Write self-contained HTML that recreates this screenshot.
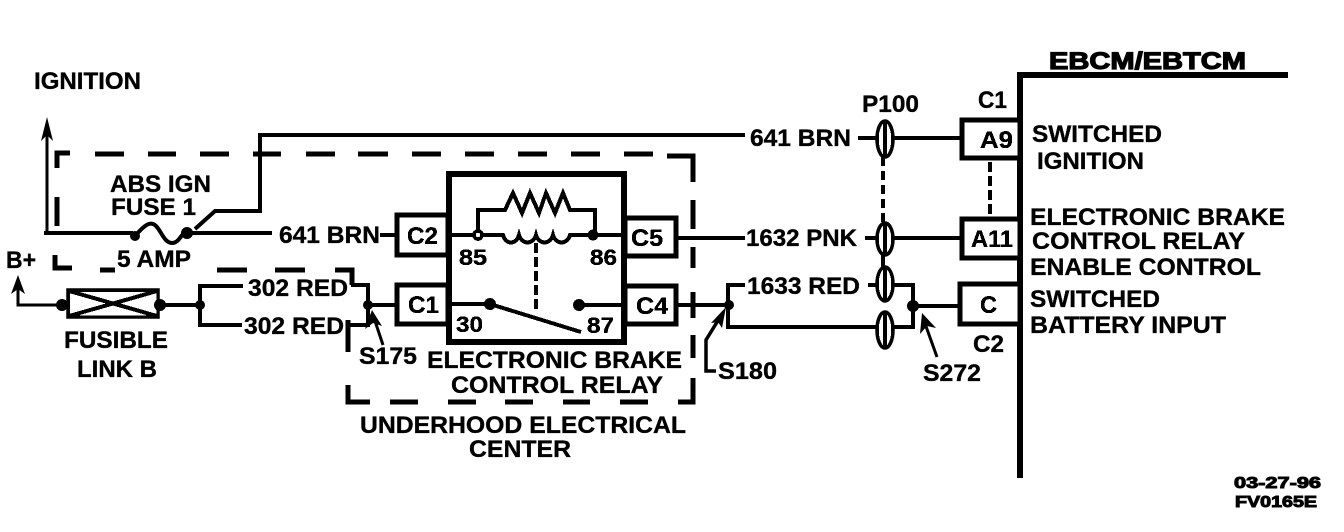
<!DOCTYPE html>
<html><head><meta charset="utf-8"><style>
html,body{margin:0;padding:0;background:#fff;width:1344px;height:532px;overflow:hidden}
svg{display:block}
text{font-family:"Liberation Sans",sans-serif;font-weight:bold;font-size:24px;fill:#000;stroke:#000;stroke-width:.35}
.w{fill:none;stroke:#000;stroke-width:3;stroke-linejoin:miter}
.h{fill:none;stroke:#000;stroke-width:5}
.d{fill:none;stroke:#000;stroke-width:5}
.b{fill:#fff;stroke:#000;stroke-width:5}
.o{fill:#fff;stroke:#000;stroke-width:3.5}
</style></head><body>
<svg width="1344" height="532" viewBox="0 0 1344 532" xmlns="http://www.w3.org/2000/svg">
<defs><filter id="t" x="0" y="0" width="100%" height="100%" color-interpolation-filters="sRGB"><feComponentTransfer><feFuncR type="discrete" tableValues="0 1"/><feFuncG type="discrete" tableValues="0 1"/><feFuncB type="discrete" tableValues="0 1"/></feComponentTransfer></filter></defs>
<rect width="1344" height="532" fill="#fff"/>
<g filter="url(#t)">
<!-- dashed enclosure -->
<path class="d" d="M70 153H57V168M57 197V226M55 255V268H72M100 270H115M95 154H124M148 154H176M200 154H229M253 154H281M306 154H335M358 154H388M412 154H441M465 154H494M518 154H547M571 154H600M624 154H653M667 156H693V182M693 200V229M693 247V268M693 292V318M693 335V358M693 378V402H678M648 402H620M590 402H563M533 402H505M476 402H448M418 402H390M370 402H348V385M217 270H247M275 270H305M335 270H352V285M348 320V352"/>
<!-- ignition circuit -->
<path class="w" d="M47 130V233H135"/>
<path d="M47 117L41 141L47 135L53 141Z" fill="#000"/>
<path class="h" d="M44 233H133" style="stroke-width:4"/>
<path class="w" style="stroke-width:4" d="M135 236C142 228 148 222 153 224C160 226 163 243 172 243C180 243 180 233 187 233"/>
<circle cx="135" cy="236" r="5"/><circle cx="187" cy="233" r="6"/>
<path class="w" style="stroke-width:4" d="M187 233H272M195 229L215 211H260V135H745M858 138H877M380 235H397"/>
<path class="w" d="M893 138H960M865 238H877M893 238H960M868 285H877M893 285H913V327H893M913 306H960M745 285H728V327H877" style="stroke-width:4"/>
<circle cx="913" cy="306" r="6"/>
<!-- P100 -->
<path class="w" stroke-dasharray="9 5" style="stroke-width:4" d="M883 157V223"/>
<path class="w" d="M883 255V267" style="stroke-width:4"/>
<ellipse class="o" cx="885" cy="139" rx="8" ry="18"/><path class="h" d="M885 123V155" style="stroke-width:4"/>
<ellipse class="o" cx="885" cy="239" rx="8" ry="16"/><path class="h" d="M885 225V253" style="stroke-width:4"/>
<ellipse class="o" cx="885" cy="284" rx="8" ry="17"/><path class="h" d="M885 269V299" style="stroke-width:4"/>
<ellipse class="o" cx="885" cy="330" rx="8" ry="18"/><path class="h" d="M885 314V346" style="stroke-width:4"/>
<!-- left fused link -->
<path class="w" d="M18 285V305H62"/>
<path d="M18 275L11 294L18 289L25 294Z" fill="#000"/>
<rect class="o" x="68" y="290" width="90" height="27"/>
<path class="w" d="M69 291L157 316M69 316L157 291" style="stroke-width:4"/>
<circle cx="62" cy="305" r="6"/><circle cx="160" cy="305" r="6"/>
<path class="w" style="stroke-width:4" d="M160 305H200M243 286H200V325H242M351 285H368V325H348M368 305H395"/>
<circle cx="200" cy="305" r="5" fill="#000"/><circle cx="368" cy="305" r="5"/>
<path class="w" d="M383 345L373 315"/><path d="M372 310L365 329L373 323L382 326Z" fill="#000"/>
<!-- relay -->
<rect class="b" x="397" y="215" width="51" height="40"/>
<rect class="b" x="397" y="285" width="51" height="39"/>
<rect class="b" x="625" y="218" width="51" height="38"/>
<rect class="b" x="625" y="286" width="51" height="38"/>
<rect class="b" x="449" y="174" width="175" height="168" style="stroke-width:6"/>
<path class="w" d="M478 235V210H505L513 193L522 213L530 193L539 213L546 193L555 213L563 193L570 210H595V235" style="stroke-width:4"/>
<path class="w" d="M450 235H503C506 245 516 245 519 235C522 245 533 245 536 235C539 245 550 245 553 235C556 245 567 245 570 235H624" style="stroke-width:4"/>
<circle class="o" cx="478" cy="235" r="4"/><circle cx="593" cy="235" r="5.5"/>
<path class="w" stroke-dasharray="10 4" style="stroke-width:4" d="M536 243V310"/>
<path class="w" style="stroke-width:4" d="M450 304H490L581 332M579 305H624"/>
<circle cx="490" cy="304" r="6"/><circle cx="579" cy="305" r="6"/>
<!-- right side -->
<path class="w" style="stroke-width:4" d="M676 238H745M676 305H728"/>
<circle cx="729" cy="305" r="5"/>
<path class="w" style="stroke-width:3.5" d="M716 371H706V340L722 314"/><path d="M726 307L711 323L718 322L722 328Z" fill="#000"/>
<path class="w" d="M937 357L923 318"/><path d="M922 313L920 334L927 326L936 328Z" fill="#000"/>
<path class="h" d="M1020 478V75H1288" style="stroke-width:6"/>
<rect class="b" x="962" y="120" width="58" height="38"/>
<rect class="b" x="962" y="219" width="58" height="39"/>
<rect class="b" x="960" y="284" width="60" height="40"/>
<path class="w" stroke-dasharray="10 4" style="stroke-width:4" d="M990 162V216"/>
<!-- labels -->
<text x="34" y="89" textLength="107" lengthAdjust="spacingAndGlyphs">IGNITION</text>
<text x="110" y="192" textLength="101" lengthAdjust="spacingAndGlyphs">ABS IGN</text>
<text x="111" y="215" textLength="85" lengthAdjust="spacingAndGlyphs">FUSE 1</text>
<text x="279" y="243" textLength="101" lengthAdjust="spacingAndGlyphs">641 BRN</text>
<text x="117" y="267" textLength="74" lengthAdjust="spacingAndGlyphs">5 AMP</text>
<text x="6" y="268" textLength="30" lengthAdjust="spacingAndGlyphs">B+</text>
<text x="248" y="296" textLength="100" lengthAdjust="spacingAndGlyphs">302 RED</text>
<text x="244" y="334" textLength="100" lengthAdjust="spacingAndGlyphs">302 RED</text>
<text x="64" y="348" textLength="104" lengthAdjust="spacingAndGlyphs">FUSIBLE</text>
<text x="77" y="377" textLength="80" lengthAdjust="spacingAndGlyphs">LINK B</text>
<text x="359" y="364" textLength="58" lengthAdjust="spacingAndGlyphs">S175</text>
<text x="427" y="368" textLength="255" lengthAdjust="spacingAndGlyphs">ELECTRONIC BRAKE</text>
<text x="451" y="393" textLength="212" lengthAdjust="spacingAndGlyphs">CONTROL RELAY</text>
<text x="360" y="433" textLength="326" lengthAdjust="spacingAndGlyphs">UNDERHOOD ELECTRICAL</text>
<text x="469" y="457" textLength="102" lengthAdjust="spacingAndGlyphs">CENTER</text>
<text x="407" y="244" textLength="31" lengthAdjust="spacingAndGlyphs">C2</text>
<text x="408" y="313" textLength="31" lengthAdjust="spacingAndGlyphs">C1</text>
<text x="631" y="246" textLength="32" lengthAdjust="spacingAndGlyphs">C5</text>
<text x="636" y="314" textLength="32" lengthAdjust="spacingAndGlyphs">C4</text>
<text x="459" y="265" textLength="28" style="font-size:22px" lengthAdjust="spacingAndGlyphs">85</text>
<text x="590" y="265" textLength="27" style="font-size:22px" lengthAdjust="spacingAndGlyphs">86</text>
<text x="456" y="332" textLength="27" style="font-size:22px" lengthAdjust="spacingAndGlyphs">30</text>
<text x="587" y="333" textLength="27" style="font-size:22px" lengthAdjust="spacingAndGlyphs">87</text>
<text x="750" y="146" textLength="101" lengthAdjust="spacingAndGlyphs">641 BRN</text>
<text x="746" y="246" textLength="111" lengthAdjust="spacingAndGlyphs">1632 PNK</text>
<text x="747" y="294" textLength="113" lengthAdjust="spacingAndGlyphs">1633 RED</text>
<text x="718" y="379" textLength="59" lengthAdjust="spacingAndGlyphs">S180</text>
<text x="923" y="381" textLength="58" lengthAdjust="spacingAndGlyphs">S272</text>
<text x="862" y="112" textLength="57" lengthAdjust="spacingAndGlyphs">P100</text>
<text x="978" y="108" textLength="29" lengthAdjust="spacingAndGlyphs">C1</text>
<text x="973" y="352" textLength="31" lengthAdjust="spacingAndGlyphs">C2</text>
<text x="980" y="148" textLength="33" lengthAdjust="spacingAndGlyphs">A9</text>
<text x="971" y="247" textLength="42" lengthAdjust="spacingAndGlyphs">A11</text>
<text x="980" y="313" textLength="17" lengthAdjust="spacingAndGlyphs">C</text>
<text x="1049" y="69" textLength="197" lengthAdjust="spacingAndGlyphs" style="stroke:#000;stroke-width:1.2">EBCM/EBTCM</text>
<text x="1032" y="142" textLength="130" lengthAdjust="spacingAndGlyphs">SWITCHED</text>
<text x="1037" y="169" textLength="107" lengthAdjust="spacingAndGlyphs">IGNITION</text>
<text x="1030" y="225" textLength="255" lengthAdjust="spacingAndGlyphs">ELECTRONIC BRAKE</text>
<text x="1032" y="249" textLength="213" lengthAdjust="spacingAndGlyphs">CONTROL RELAY</text>
<text x="1030" y="275" textLength="231" lengthAdjust="spacingAndGlyphs">ENABLE CONTROL</text>
<text x="1030" y="307" textLength="130" lengthAdjust="spacingAndGlyphs">SWITCHED</text>
<text x="1030" y="333" textLength="196" lengthAdjust="spacingAndGlyphs">BATTERY INPUT</text>
<text x="1234" y="488" textLength="87" lengthAdjust="spacingAndGlyphs" style="font-size:16px;stroke:#000;stroke-width:1">03-27-96</text>
<text x="1235" y="507" textLength="82" lengthAdjust="spacingAndGlyphs" style="font-size:16px;stroke:#000;stroke-width:1">FV0165E</text>
</g>
</svg>
</body></html>
